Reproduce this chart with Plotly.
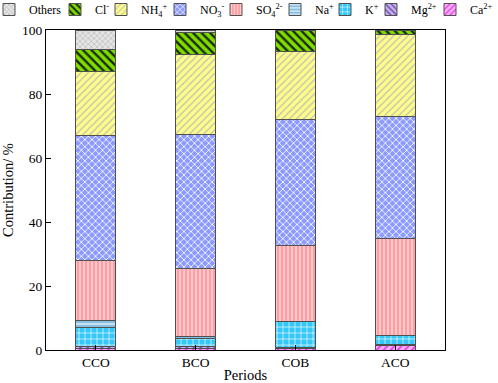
import plotly.graph_objects as go

periods = ["CCO", "BCO", "COB", "ACO"]

# series values (%), stacked bottom (Ca) to top (Others)
ca = [0.5, 0.5, 0.4, 1.5]
mg = [0.5, 0.5, 0.4, 0.1]
k = [6.1, 2.5, 8.1, 2.9]
na = [2.2, 0.7, 0.1, 0.1]
so4 = [18.6, 21.3, 23.8, 30.1]
no3 = [39.2, 41.7, 39.1, 38.3]
nh4 = [19.9, 25.1, 21.4, 25.5]
cl = [7.0, 6.9, 6.5, 1.3]
others = [6.0, 0.8, 0.3, 0.0]

series_names = [
    "Ca<sup>2+</sup>", "Mg<sup>2+</sup>", "K<sup>+</sup>", "Na<sup>+</sup>",
    "SO<sub>4</sub><sup>2-</sup>", "NO<sub>3</sub><sup>-</sup>",
    "NH<sub>4</sub><sup>+</sup>", "Cl<sup>-</sup>", "Others",
]
series_values = [ca, mg, k, na, so4, no3, nh4, cl, others]

styles = [
    dict(bgcolor="#ffb0ff", fgcolor="#e040e0", shape="/", size=5, solidity=0.35),
    dict(bgcolor="#c8b4ee", fgcolor="#6a4aa8", shape="\\", size=5, solidity=0.35),
    dict(bgcolor="#33c8f8", fgcolor="#ffffff", shape="+", size=6, solidity=0.2),
    dict(bgcolor="#88bfe0", fgcolor="#e0f0fa", shape="-", size=4, solidity=0.35),
    dict(bgcolor="#ff9ea2", fgcolor="#ffe4e4", shape="|", size=4, solidity=0.3),
    dict(bgcolor="#8c9aff", fgcolor="#ffffff", shape="x", size=5, solidity=0.3),
    dict(bgcolor="#ffff88", fgcolor="#c8c8b0", shape="/", size=5, solidity=0.3),
    dict(bgcolor="#80dd00", fgcolor="#1a2a00", shape="\\", size=6, solidity=0.4),
    dict(bgcolor="#e4e4e4", fgcolor="#b8b8b8", shape="x", size=4, solidity=0.3),
]

# left pixel of each legend label text in the reference (same order as series)
legend_text_x = [473, 414, 368, 318, 259, 203, 144, 98, 32]

fam = "Liberation Serif, Times New Roman, serif"
tick_font = dict(family=fam, size=13.5, color="black")
title_font = dict(family=fam, size=14.5, color="black")

PLOT_L, PLOT_R, PLOT_T, PLOT_B = 46, 445, 30, 350

fig = go.Figure()
layout_legends = {}
for i, (name, vals, st) in enumerate(zip(series_names, series_values, styles)):
    lname = "legend" if i == 0 else f"legend{i + 1}"
    fig.add_trace(go.Bar(
        x=periods, y=vals, name=name, width=0.4, legend=lname,
        marker=dict(color=st["bgcolor"], line=dict(color="#505050", width=1),
                    pattern=dict(shape=st["shape"], fgcolor=st["fgcolor"],
                                 bgcolor=st["bgcolor"], size=st["size"],
                                 solidity=st["solidity"], fillmode="replace")),
    ))
    layout_legends[lname] = dict(
        xref="paper", yref="paper",
        x=(legend_text_x[i] - 43 - PLOT_L) / (PLOT_R - PLOT_L), xanchor="left",
        y=(PLOT_B + 5) / (PLOT_B - PLOT_T), yanchor="top",
        font=dict(family=fam, size=12, color="black"),
        bgcolor="rgba(0,0,0,0)", borderwidth=0,
    )

fig.update_layout(
    barmode="stack",
    width=498, height=383,
    margin=dict(l=PLOT_L, r=498 - PLOT_R, t=PLOT_T, b=383 - PLOT_B, autoexpand=False),
    paper_bgcolor="white", plot_bgcolor="white",
    font=tick_font,
    showlegend=True,
    **layout_legends,
)
fig.update_xaxes(
    range=[-0.5, 3.5], showline=True, linecolor="black", linewidth=1, mirror=True,
    ticks="inside", ticklen=5, tickcolor="black",
    title=dict(text="Periods", standoff=0, font=title_font), tickfont=tick_font,
)
fig.update_yaxes(
    range=[0, 100], tickvals=[0, 20, 40, 60, 80, 100], showline=True, linecolor="black",
    linewidth=1, mirror=True, ticks="inside", ticklen=5, tickcolor="black",
    showgrid=False, zeroline=False,
    title=dict(text="Contribution/ %", standoff=4, font=title_font), tickfont=tick_font,
)

fig.write_html("out.html", config={"displayModeBar": False},
               post_script="document.body.style.margin='0';")
